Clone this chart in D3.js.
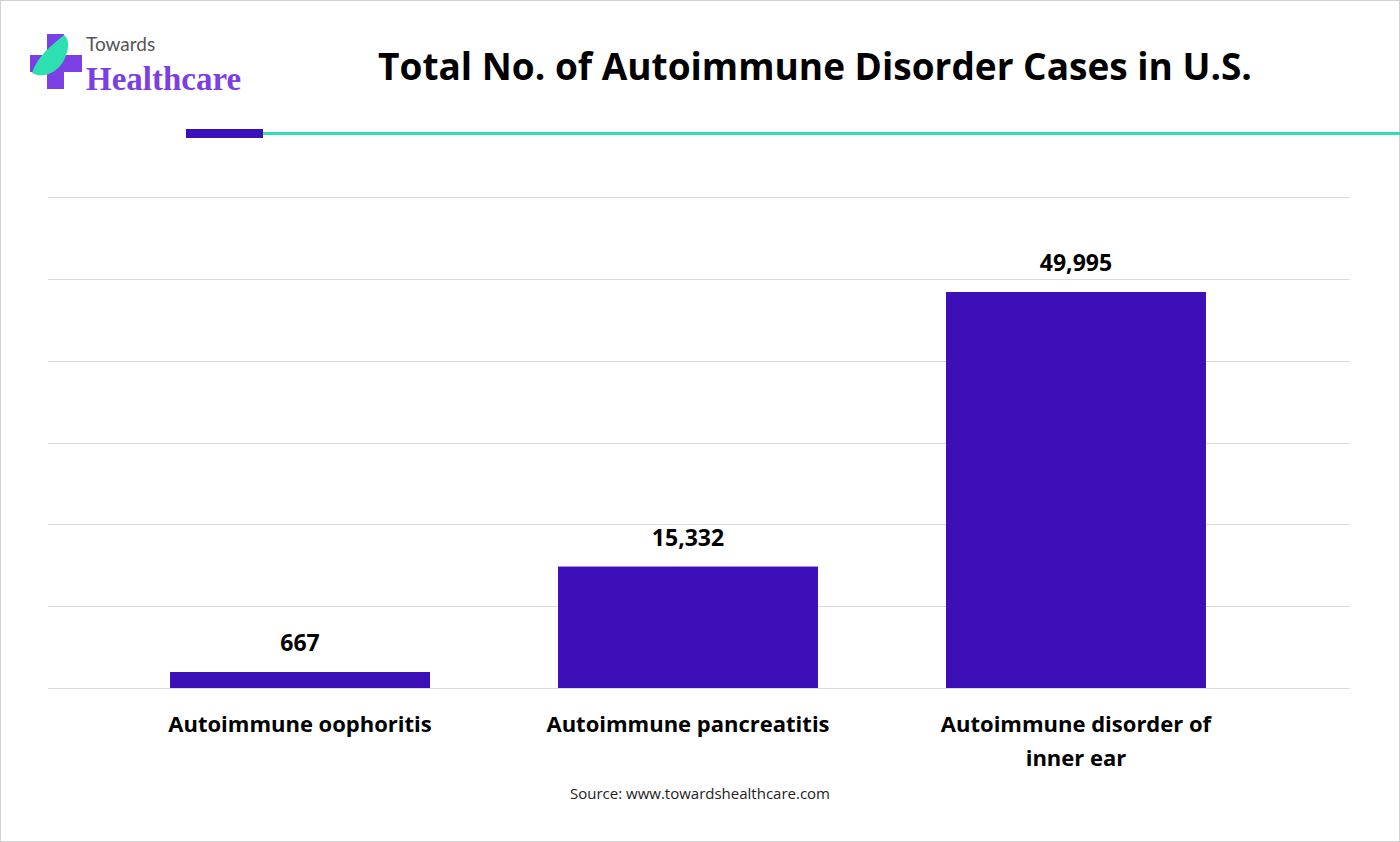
<!DOCTYPE html><html><head><meta charset="utf-8"><script src="https://cdn.jsdelivr.net/npm/d3@7"></script>
<style>body{margin:0;background:#fff}text{font-family:"Open Sans",sans-serif}</style></head><body><svg id="c" width="1400" height="842"></svg><script>
const categories=[["Autoimmune oophoritis"],["Autoimmune pancreatitis"],["Autoimmune disorder of","inner ear"]];
const values=[667,15332,49995];
const labels=["667","15,332","49,995"];
const gridSteps=[0,1,2,3,4,5,6];
const svg=d3.select("#c");
svg.append("rect").attr("x",0.5).attr("y",0.5).attr("width",1399).attr("height",841).attr("fill","#fff").attr("stroke","#d0d0d0");
// logo
const g=svg.append("g");
g.append("rect").attr("x",30).attr("y",55).attr("width",52).attr("height",17).attr("fill","#7b3fe4");
g.append("rect").attr("x",47).attr("y",34).attr("width",17).attr("height",55).attr("fill","#7b3fe4");
g.append("path").attr("d","M32,73 C45,80 62,70 66,55 C70,45 68,38 64,35 C52,45 38,55 32,73Z").attr("fill","#2ee0b0");
g.append("text").attr("x",86).attr("y",51).attr("font-size",19).attr("fill","#555").style("font-family","Lato").text("Towards");
g.append("text").attr("x",86).attr("y",90).attr("font-size",33).attr("font-weight","bold").attr("fill","#7b3fe4").style("font-family","Liberation Serif").text("Healthcare");
svg.append("text").attr("x",815).attr("y",80).attr("text-anchor","middle").attr("font-size",37).attr("font-weight","bold").attr("fill","#000").text("Total No. of Autoimmune Disorder Cases in U.S.");
svg.append("rect").attr("x",186).attr("y",129).attr("width",77).attr("height",9).attr("fill","#3a10b8");
svg.append("rect").attr("x",263).attr("y",132).attr("width",1137).attr("height",3).attr("fill","#2ee0b0");
const max=60000;
const y=d3.scaleLinear().domain([0,max]).range([688,197]);
const yv=d3.scaleLinear().domain([0,49995]).range([688,292]);
const x=d3.scaleBand().domain(d3.range(3)).range([42,1334]).paddingInner(0.33).paddingOuter(0.33);
svg.selectAll(".gl").data(gridSteps).enter().append("line").attr("x1",48).attr("x2",1350)
 .attr("y1",d=>Math.round(y(d*max/6))+0.5).attr("y2",d=>Math.round(y(d*max/6))+0.5).attr("stroke","#d9d9d9");
const hmin=16;
const barTop=v=>Math.min(yv(v),688-hmin);
svg.selectAll(".b").data(values).enter().append("rect").attr("x",(d,i)=>x(i)).attr("width",x.bandwidth())
 .attr("y",d=>barTop(d)).attr("height",d=>688-barTop(d)).attr("fill","#3c0fb8");
svg.selectAll(".v").data(values).enter().append("text").attr("x",(d,i)=>x(i)+x.bandwidth()/2).attr("y",d=>barTop(d)-21)
 .attr("text-anchor","middle").attr("font-size",23).attr("font-weight","bold").text((d,i)=>labels[i]);
categories.forEach((c,i)=>{c.forEach((l,j)=>svg.append("text").attr("x",x(i)+x.bandwidth()/2).attr("y",732+j*34).attr("text-anchor","middle").attr("font-size",22).attr("font-weight","bold").text(l));});
svg.append("text").attr("x",700).attr("y",799).attr("text-anchor","middle").attr("font-size",15).attr("fill","#222").text("Source: www.towardshealthcare.com");
</script></body></html>
